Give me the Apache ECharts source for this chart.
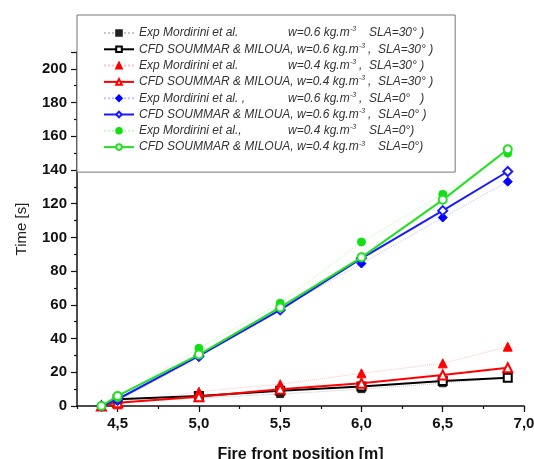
<!DOCTYPE html>
<html>
<head>
<meta charset="utf-8">
<script src="https://cdn.jsdelivr.net/npm/echarts@6/dist/echarts.min.js"></script>
<style>
  html, body { margin: 0; padding: 0; background: #fff; }
  #chart { width: 534px; height: 459px; }
</style>
</head>
<body>
<div id="chart"></div>
<script>
// fire front positions [m]
const xPos = [4.4, 4.5, 5.0, 5.5, 6.0, 6.5, 6.9];
const xTicks = [4.5, 5.0, 5.5, 6.0, 6.5, 7.0];

// time [s]  (null = no point)
const expBlack = [null, 2, 4.7, 7.1, 10, 13.5, 16.8];
const cfdBlack = [null, 4, 5.9, 9.1, 11.5, 14.8, 16.8];
const expRed = [null, 1, 8.5, 12.9, 19.4, 25.3, 35.2];
const cfdRed = [0, 2, 5.5, 10, 13.5, 18.4, 22.7];
const expBlue = [null, 3, 29, 57.5, 84.5, 111.8, 133.1];
const cfdBlue = [0, 4, 29.7, 57, 87.6, 115.9, 139.1];
const expGreen = [null, 5, 34.2, 61, 97.3, 125.6, 150];
const cfdGreen = [0, 6, 30.5, 58.5, 88.2, 122.3, 152.3];

// legend texts
const legendNames = [
  "Exp Mordirini et al.",
  "CFD SOUMMAR & MILOUA,",
  "Exp Mordirini et al.",
  "CFD SOUMMAR & MILOUA,",
  "Exp Mordirini et al. ,",
  "CFD SOUMMAR & MILOUA,",
  "Exp Mordirini et al.,",
  "CFD SOUMMAR & MILOUA,",
];
const legendW = ["w=0.6 kg.m", "w=0.6 kg.m", "w=0.4 kg.m", "w=0.4 kg.m", "w=0.6 kg.m", "w=0.6 kg.m", "w=0.4 kg.m", "w=0.4 kg.m"];
const legendComma = [" ", ",", ",", ",", ",", ",", " ", " "];
const legendSla = ["SLA=30° )", "SLA=30° )", "SLA=30° )", "SLA=30° )", "SLA=0°   )", "SLA=0° )", "SLA=0°)", "SLA=0°)"];

const seriesData = [expBlack, cfdBlack, expRed, cfdRed, expBlue, cfdBlue, expGreen, cfdGreen];
const seriesKeys = ["s0", "s1", "s2", "s3", "s4", "s5", "s6", "s7"];

const chart = echarts.init(document.getElementById("chart"));

const colors = ["#222222", "#000000", "#ff0000", "#ff0000", "#0000ff", "#1a1aff", "#11e011", "#22e022"];
const symbols = ["rect", "emptyRect", "triangle", "emptyTriangle", "diamond", "emptyDiamond", "circle", "emptyCircle"];
const sizes = [7, 8, 9, 9, 9, 9, 8, 8];

let series = [];
for (let i = 0; i < 8; i++) {
  const isExp = i % 2 === 0;
  let pts = [];
  xPos.forEach((x, j) => {
    if (seriesData[i][j] !== null) pts.push([x, seriesData[i][j]]);
  });
  series.push({
    name: seriesKeys[i],
    type: "line",
    data: pts,
    symbol: symbols[i],
    symbolSize: sizes[i],
    showAllSymbol: true,
    itemStyle: { color: colors[i], borderColor: colors[i], borderWidth: 1 },
    lineStyle: isExp
      ? { color: colors[i], width: 1, type: "dotted", opacity: 0.25 }
      : { color: colors[i], width: 2 },
    z: 2 + i,
    animation: false,
  });
}

const base = {
  fontSize: 12,
  fontStyle: "italic",
  fontFamily: "Liberation Sans",
  color: "#333",
  lineHeight: 14,
};

let options = {
  grid: {
    left: 77,
    right: 10,
    top: 52,
    bottom: 53,
    outerBoundsMode: "none",
  },
  legend: {
    orient: "vertical",
    left: 77,
    top: 15,
    padding: [11, 22, 19, 26],
    itemGap: 3.3,
    itemWidth: 30,
    itemHeight: 7,
    backgroundColor: "#fff",
    borderColor: "#777",
    borderWidth: 1,
    data: seriesKeys,
    formatter: function (name) {
      const i = seriesKeys.indexOf(name);
      const n = i % 2 === 0 ? "{ne|" + legendNames[i] + "}" : "{nc|" + legendNames[i] + " }";
      return n + "{w|" + legendW[i] + "}{s|-3}{c|" + legendComma[i] + "}{l|" + legendSla[i] + "}";
    },
    textStyle: {
      rich: {
        ne: Object.assign({}, base, { width: 149 }),
        nc: Object.assign({}, base),
        w: Object.assign({}, base, { width: 62 }),
        s: Object.assign({}, base, { fontSize: 7, lineHeight: 8, width: 9, verticalAlign: "top" }),
        c: Object.assign({}, base, { width: 10 }),
        l: Object.assign({}, base),
      },
    },
  },
  xAxis: [
    {
      type: "value",
      min: 4.25,
      max: 7,
      interval: 0.25,
      name: "Fire front position [m]",
      nameLocation: "middle",
      nameGap: 41,
      nameTextStyle: { fontSize: 16, fontWeight: "bold", color: "#111", fontFamily: "Liberation Sans" },
      axisLine: { onZero: false, lineStyle: { color: "#111", width: 1.5 } },
      axisTick: { length: 3, lineStyle: { color: "#111", width: 1.2 } },
      axisLabel: {
        margin: 10,
        fontSize: 15,
        fontWeight: "bold",
        color: "#111",
        fontFamily: "Liberation Sans",
        formatter: function (v) {
          const d = v * 2;
          if (Math.abs(d - Math.round(d)) > 1e-6) return "";
          return v.toFixed(1).replace(".", ",");
        },
      },
      splitLine: { show: false },
    },
    {
      type: "value",
      min: 4.25,
      max: 7,
      position: "bottom",
      offset: 0,
      axisLine: { show: false, onZero: false },
      axisTick: { show: true, length: 6, customValues: xTicks, lineStyle: { color: "#111", width: 1.2 } },
      axisLabel: { show: false },
      splitLine: { show: false },
    },
  ],
  yAxis: {
    type: "value",
    min: 0,
    max: 210,
    interval: 20,
    name: "Time [s]",
    nameLocation: "middle",
    nameGap: 48,
    nameTextStyle: { fontSize: 15, color: "#222", fontFamily: "Liberation Sans" },
    axisLine: { lineStyle: { color: "#111", width: 1.5 } },
    axisTick: { length: 6, lineStyle: { color: "#111", width: 1.2 } },
    minorTick: { show: true, splitNumber: 2, length: 3, lineStyle: { color: "#111", width: 1.2 } },
    axisLabel: {
      margin: 10,
      fontSize: 15,
      fontWeight: "bold",
      color: "#111",
      fontFamily: "Liberation Sans",
      formatter: function (v) {
        return v <= 200 ? v : "";
      },
    },
    splitLine: { show: false },
  },
  series: series,
};
chart.setOption(options);
</script>
</body>
</html>
